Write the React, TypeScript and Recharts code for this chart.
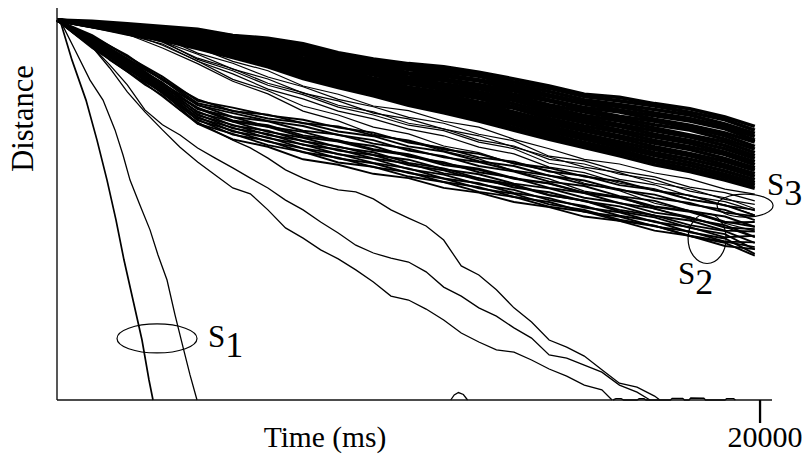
import {LineChart, Line, XAxis, YAxis, ReferenceDot, Label} from "recharts";

// sample times (ms) shared by the trajectory bundles
const TIMES = [0, 1000, 2000, 3000, 4000, 5000, 6000, 7000, 8000, 9000, 10000,
    11000, 12000, 13000, 14000, 15000, 16000, 17000, 18000, 19000, 19850];

// S3 - the dense upper bundle
const S3_BAND: number[][] = [
    [96.9, 96.6, 96.0, 95.3, 94.6, 93.0, 92.3, 90.9, 88.6, 87.0, 85.8, 85.0, 83.6, 81.9, 80.1, 78.0, 77.2, 75.6, 74.3, 72.2, 69.8],
    [96.9, 96.3, 95.6, 94.9, 94.1, 92.9, 91.6, 90.2, 88.1, 86.4, 85.1, 84.3, 83.2, 81.1, 79.5, 77.4, 76.3, 75.0, 73.4, 71.5, 68.8],
    [96.9, 96.2, 95.7, 94.6, 93.8, 92.4, 91.4, 89.5, 87.6, 86.0, 84.6, 83.7, 82.6, 80.4, 78.7, 76.6, 75.4, 74.1, 72.7, 70.4, 68.0],
    [96.9, 96.0, 95.2, 94.7, 93.4, 92.2, 90.9, 89.4, 87.0, 85.5, 84.3, 83.0, 81.7, 80.0, 77.9, 75.9, 74.8, 73.2, 71.8, 69.7, 67.2],
    [96.9, 96.1, 95.0, 94.2, 93.5, 91.8, 90.8, 88.9, 86.8, 85.3, 83.5, 82.6, 81.4, 79.3, 77.4, 75.5, 74.0, 72.5, 71.2, 69.2, 66.3],
    [96.9, 95.9, 95.3, 93.9, 93.0, 91.6, 90.3, 88.3, 86.3, 84.6, 83.2, 81.9, 80.5, 78.8, 76.6, 74.6, 73.5, 71.6, 70.1, 68.1, 65.8],
    [96.9, 96.0, 94.9, 94.1, 92.8, 91.2, 89.8, 88.1, 85.9, 84.2, 82.4, 81.5, 80.0, 78.0, 76.3, 74.1, 72.4, 71.1, 69.5, 67.4, 64.7],
    [96.9, 95.8, 94.8, 93.6, 92.6, 91.1, 89.5, 87.3, 85.5, 83.6, 82.1, 80.7, 79.4, 77.5, 75.3, 73.5, 71.8, 70.2, 68.9, 66.5, 64.0],
    [96.9, 95.9, 94.6, 93.7, 92.2, 90.6, 89.3, 87.0, 84.9, 83.3, 81.4, 80.3, 78.6, 76.8, 74.7, 72.6, 71.2, 69.4, 67.6, 65.8, 63.1],
    [96.9, 95.7, 94.7, 93.3, 92.0, 90.3, 88.8, 86.6, 84.6, 82.9, 81.0, 79.6, 78.0, 76.4, 73.9, 72.0, 70.3, 68.7, 67.1, 64.9, 62.3],
    [96.9, 95.8, 94.5, 93.4, 91.8, 90.1, 88.4, 86.2, 84.2, 82.1, 80.6, 79.2, 77.4, 75.6, 73.3, 71.3, 69.8, 67.8, 66.2, 64.1, 61.6],
    [96.9, 95.6, 94.4, 93.0, 91.6, 89.7, 88.2, 85.8, 83.6, 81.9, 79.8, 78.5, 76.9, 74.8, 72.6, 70.7, 68.9, 67.1, 65.5, 63.2, 60.8],
    [96.9, 95.7, 94.3, 93.1, 91.3, 89.5, 87.7, 85.5, 83.4, 81.3, 79.5, 77.9, 76.0, 74.4, 71.8, 69.9, 68.3, 66.2, 64.6, 62.6, 60.0],
    [96.9, 95.5, 94.1, 92.7, 91.1, 89.2, 87.4, 84.8, 82.8, 80.9, 78.8, 77.3, 75.6, 73.5, 71.2, 69.2, 67.4, 65.5, 63.9, 61.6, 59.2],
    [96.9, 95.6, 94.2, 92.8, 90.9, 88.8, 87.0, 84.5, 82.3, 80.6, 78.2, 76.6, 74.9, 72.9, 70.5, 68.6, 66.8, 64.6, 62.9, 60.9, 58.6],
    [96.9, 95.4, 94.0, 92.5, 90.7, 88.7, 86.6, 84.0, 82.0, 79.9, 77.7, 76.0, 74.2, 72.3, 69.8, 67.8, 65.9, 63.9, 62.3, 60.0, 57.7],
    [96.9, 95.5, 93.8, 92.6, 90.4, 88.3, 86.3, 83.6, 81.5, 79.5, 77.1, 75.5, 73.6, 71.6, 69.2, 67.1, 65.2, 63.1, 61.4, 59.3, 57.0],
    [96.9, 95.3, 93.9, 92.2, 90.3, 88.1, 85.9, 83.3, 81.0, 79.0, 76.6, 74.8, 72.9, 71.0, 68.5, 66.5, 64.5, 62.4, 60.6, 58.4, 56.2],
    [96.9, 95.4, 93.7, 92.3, 90.0, 87.8, 85.7, 82.8, 80.6, 78.5, 76.1, 74.3, 72.2, 70.3, 67.8, 65.7, 63.8, 61.5, 59.8, 57.6, 55.4],
    [96.9, 95.2, 93.6, 91.9, 89.9, 87.6, 85.4, 82.5, 80.1, 78.2, 75.6, 73.8, 71.7, 69.5, 67.1, 65.0, 63.1, 60.8, 59.0, 56.9, 54.8],
    [96.9, 95.3, 93.4, 91.8, 89.7, 87.4, 85.0, 82.0, 79.7, 77.6, 75.2, 73.3, 71.2, 68.8, 66.5, 64.4, 62.3, 60.0, 58.3, 56.1, 54.0],
];

// trajectories that drift out of S3 towards S2
const CROSSING: number[][] = [
    [96.9, 96.2, 95.0, 92.7, 89.9, 86.4, 84.0, 80.1, 78.0, 75.0, 73.8, 71.1, 69.6, 66.5, 64.1, 61.4, 60.2, 57.9, 56.4, 53.8, 52.5],
    [96.9, 95.9, 94.2, 92.5, 88.5, 85.9, 82.4, 79.9, 76.7, 74.8, 72.1, 70.6, 67.8, 66.1, 62.2, 61.0, 58.4, 56.9, 54.3, 52.9, 50.8],
    [96.9, 95.6, 94.0, 91.5, 88.2, 84.4, 81.9, 78.3, 76.3, 73.2, 71.7, 69.1, 67.4, 64.5, 62.0, 59.4, 58.0, 55.3, 53.9, 51.2, 49.9],
    [96.9, 96.0, 93.9, 91.5, 86.9, 84.0, 80.3, 77.9, 74.7, 72.7, 70.1, 68.7, 65.8, 64.1, 60.4, 59.0, 56.3, 54.9, 52.0, 50.6, 48.3],
    [96.9, 95.5, 93.2, 90.8, 86.4, 83.2, 79.3, 76.8, 73.7, 71.7, 69.1, 67.4, 64.5, 62.8, 59.4, 58.0, 55.3, 53.9, 51.2, 49.8, 47.2],
    [96.9, 95.6, 93.8, 90.5, 86.5, 81.8, 78.9, 75.0, 72.7, 69.6, 67.9, 64.8, 63.1, 60.2, 58.5, 55.3, 53.4, 50.2, 48.3, 45.1, 43.1],
    [96.9, 95.3, 93.3, 89.8, 85.8, 81.3, 78.1, 73.7, 71.2, 67.8, 66.1, 63.5, 61.5, 58.4, 56.4, 53.3, 51.8, 48.7, 46.7, 44.1, 41.5],
    [96.9, 96.0, 93.7, 91.3, 87.2, 84.5, 80.8, 78.4, 75.2, 73.5, 70.6, 69.2, 66.3, 64.8, 61.4, 60.2, 57.6, 56.2, 53.3, 51.6, 48.8],
];

// S2 - the lower bundle
const S2_BAND: number[][] = [
    [96.9, 93.1, 87.6, 82.5, 76.3, 74.6, 72.6, 71.5, 69.5, 68.2, 65.7, 64.3, 61.9, 60.8, 58.3, 57.2, 54.8, 53.6, 51.1, 49.7, 47.1],
    [96.9, 92.7, 87.9, 81.6, 76.7, 73.7, 72.8, 70.6, 69.8, 67.5, 66.2, 63.9, 62.8, 60.4, 59.2, 57.0, 55.8, 53.4, 52.2, 49.6, 48.5],
    [96.9, 92.4, 86.8, 81.7, 75.2, 73.2, 71.2, 69.9, 67.6, 66.3, 63.6, 62.2, 59.7, 58.3, 55.7, 54.6, 52.0, 50.8, 48.2, 46.8, 44.2],
    [96.9, 92.2, 87.0, 80.7, 75.3, 72.2, 71.1, 68.7, 67.7, 65.4, 64.1, 61.9, 60.7, 58.5, 57.3, 55.0, 53.8, 51.5, 50.3, 47.8, 46.9],
    [96.9, 92.0, 86.2, 81.0, 74.2, 72.2, 69.7, 68.4, 66.0, 64.8, 62.1, 60.7, 58.1, 56.7, 54.1, 52.8, 50.2, 48.9, 46.2, 44.6, 41.6],
    [96.9, 91.6, 86.3, 80.0, 74.3, 71.0, 69.7, 67.1, 65.9, 63.7, 62.4, 59.9, 58.7, 56.4, 55.2, 52.8, 51.6, 49.2, 48.0, 45.3, 45.4],
    [96.9, 91.4, 85.5, 80.4, 73.3, 71.0, 68.4, 66.9, 64.5, 63.2, 60.5, 59.1, 56.5, 55.0, 52.3, 50.8, 48.1, 46.6, 43.9, 42.3, 38.4],
    [96.9, 91.3, 85.9, 79.5, 73.6, 70.0, 68.7, 66.0, 64.7, 62.5, 61.3, 58.9, 57.6, 55.2, 54.0, 51.6, 50.3, 47.8, 46.6, 44.0, 43.6],
    [96.9, 91.1, 85.1, 79.9, 72.6, 70.2, 67.6, 66.1, 63.6, 62.5, 59.9, 58.6, 56.1, 54.7, 52.2, 50.9, 48.5, 47.1, 44.6, 43.1, 40.1],
    [96.9, 91.0, 85.5, 79.1, 72.9, 69.3, 67.9, 65.1, 63.9, 61.6, 60.3, 57.8, 56.6, 54.2, 53.0, 50.7, 49.4, 47.0, 45.8, 43.2, 43.0],
    [96.9, 90.8, 84.7, 79.4, 71.9, 69.5, 66.8, 65.2, 62.7, 61.5, 58.9, 57.5, 55.0, 53.6, 51.0, 49.5, 47.0, 45.6, 42.8, 41.2, 37.3],
    [96.9, 90.6, 85.1, 78.6, 72.2, 68.5, 67.0, 64.2, 62.8, 60.5, 59.1, 56.5, 55.3, 52.8, 51.5, 49.1, 47.9, 45.4, 44.1, 41.5, 41.9],
    [96.9, 90.5, 84.3, 79.0, 71.3, 68.7, 65.9, 64.2, 61.6, 60.4, 57.9, 56.5, 54.0, 52.6, 49.9, 48.5, 46.0, 44.5, 41.8, 40.1, 36.8],
    [96.9, 90.3, 84.7, 78.2, 71.5, 67.7, 66.1, 63.2, 61.8, 59.4, 58.1, 55.6, 54.3, 51.8, 50.5, 48.0, 46.8, 44.3, 43.0, 40.4, 40.2],
    [96.9, 90.1, 83.8, 78.5, 70.5, 67.9, 65.0, 63.3, 60.6, 59.5, 57.0, 55.6, 53.1, 51.8, 49.3, 48.1, 45.7, 44.4, 41.9, 40.4, 39.0],
    [96.9, 89.8, 84.0, 77.5, 70.5, 66.5, 64.6, 61.4, 60.0, 57.7, 56.6, 54.1, 52.9, 50.5, 49.2, 46.8, 45.7, 43.2, 41.9, 39.3, 38.5],
    [96.9, 92.6, 87.1, 82.0, 75.7, 73.8, 71.8, 70.7, 68.5, 67.3, 64.7, 63.4, 60.9, 59.7, 57.2, 56.0, 53.6, 52.4, 49.9, 48.5, 45.9],
    [96.9, 91.8, 86.6, 80.2, 74.6, 71.3, 70.1, 67.5, 66.3, 64.0, 62.7, 60.3, 59.0, 56.6, 55.3, 52.9, 51.8, 49.4, 48.2, 45.5, 44.2],
];

// the three trajectories that fall all the way to zero (sampled every 500 ms)
const STRAY_P_TIME = [0, 500, 1000, 1500, 2000, 2500, 3000, 3500, 4000, 4500, 5000, 5500, 6000, 6500, 7000, 7500, 8000,
    8500, 9000, 9500, 10000, 10500, 11000, 11500, 12000, 12500, 13000, 13500, 14000, 14500, 15000, 15500, 16000, 16500, 17000, 17150];
const STRAY_P_DIST = [96.9, 93.6, 90.6, 86.7, 83.7, 80.4, 77.8, 74.0, 70.9, 68.6, 66.3, 64.3, 61.7, 58.7, 56.6, 54.8, 53.6,
    53.1, 51.3, 48.5, 46.4, 44.4, 40.8, 34.2, 31.9, 28.1, 23.5, 19.9, 15.3, 13.5, 11.2, 7.7, 4.3, 3.3, 1.0, 0];
const STRAY_Q_TIME = [0, 500, 1000, 1500, 2000, 2500, 3000, 3500, 4000, 4500, 5000, 5500, 6000, 6500, 7000, 7500, 8000,
    8500, 9000, 9500, 10000, 10500, 11000, 11500, 12000, 12500, 13000, 13500, 14000, 14500, 15000, 15500, 16000, 16500, 16870];
const STRAY_Q_DIST = [96.9, 93.4, 90.1, 85.5, 80.4, 74.0, 70.2, 67.6, 64.3, 61.7, 59.2, 56.6, 54.1, 51.0, 48.5, 45.4, 42.6,
    39.5, 37.5, 36.2, 35.2, 32.7, 28.8, 26.5, 23.5, 21.4, 18.4, 15.8, 11.5, 10.7, 8.9, 7.1, 3.8, 2.0, 0];
const STRAY_R_TIME = [0, 500, 1000, 1500, 2000, 2500, 3000, 3500, 4000, 4500, 5000, 5500, 6000, 6500, 7000, 7500, 8000,
    8500, 9000, 9500, 10000, 10500, 11000, 11500, 12000, 12500, 13000, 13500, 14000, 14500, 15000, 15500, 15790];
const STRAY_R_DIST = [96.9, 93.4, 90.1, 84.7, 78.6, 73.5, 68.9, 64.5, 60.7, 57.4, 54.1, 52.6, 48.5, 43.9, 41.3, 38.3, 36.0,
    33.2, 30.1, 26.5, 25.5, 23.2, 20.4, 17.1, 14.8, 12.8, 12.2, 10.2, 7.9, 6.1, 3.8, 2.6, 0];

// S1 - the two fast ones
const S1_A_TIME = [85, 427, 825, 1138, 1423, 1679, 1906, 2162, 2418, 2617, 2731];
const S1_A_DIST = [96.9, 86.7, 76.5, 66.3, 56.1, 45.9, 35.7, 25.5, 15.3, 5.1, 0];
const S1_B_TIME = [85, 512, 939, 1309, 1650, 1878, 2077, 2361, 2646, 2873, 3130, 3357, 3585, 3784, 3983];
const S1_B_DIST = [96.9, 89.3, 81.6, 76.5, 68.9, 62.5, 56.1, 49.7, 43.4, 37.0, 30.6, 21.7, 13.5, 6.4, 0];

// small blips on the floor
const BLIP_TIME = [11200, 11300, 11420, 11560, 11680];
const BLIP_DIST = [0, 1.3, 1.9, 1.4, 0];
const FLOOR_TIME = [15820, 15900, 16050, 16120, 16500, 16560, 16700, 16760, 17450, 17500, 17800, 17850,
    17980, 18030, 18400, 18450, 19000, 19050, 19250, 19300];
const FLOOR_DIST = [0, 0.35, 0.35, 0, 0, 0.3, 0.3, 0, 0, 0.4, 0.4, 0, 0, 0.5, 0.45, 0, 0, 0.35, 0.35, 0];

const X_TICKS = [20000];

// group markers
const ELLIPSES = [
    {t: 2845, d: 15.7, rx: 40, ry: 14.5},
    {t: 18493, d: 41.2, rx: 19, ry: 25},
    {t: 19574, d: 49.6, rx: 28, ry: 11.5},
];
const GROUP_LABELS = [
    {t: 4296, d: 13.5, sub: "1"},
    {t: 17667, d: 29.6, sub: "2"},
    {t: 20200, d: 52.3, sub: "3"},
];

const SERIF = '"Liberation Serif", "Times New Roman", serif';

const groups: [string, number[][]][] = [["a", S3_BAND], ["c", CROSSING], ["b", S2_BAND]];

const rows = TIMES.map((t, i) => {
    const row: Record<string, number> = {t};
    groups.forEach(([key, lines]) => lines.forEach((l, j) => (row[key + j] = l[i])));
    return row;
});

const pairs = (ts: number[], ds: number[]) => ts.map((t, i) => ({t, d: ds[i]}));

const singles: [number[], number[], number][] = [
    [STRAY_P_TIME, STRAY_P_DIST, 1.3],
    [STRAY_Q_TIME, STRAY_Q_DIST, 1.3],
    [STRAY_R_TIME, STRAY_R_DIST, 1.3],
    [S1_A_TIME, S1_A_DIST, 1.7],
    [S1_B_TIME, S1_B_DIST, 1.3],
    [BLIP_TIME, BLIP_DIST, 1.3],
    [FLOOR_TIME, FLOOR_DIST, 1.4],
];

const widths: Record<string, number> = {a: 3.6, c: 1.2, b: 1.9};

const App = () => {
    return (
        <div style={{position: "absolute", left: 0, top: 0}}>
            <LineChart width={807} height={454} data={rows} margin={{top: 8, right: 35, bottom: 0, left: 0}}>
                <XAxis dataKey="t" type="number" domain={[0, 20340]} ticks={X_TICKS} height={54}
                       axisLine={{stroke: "#111", strokeWidth: 1.4}}
                       tickLine={{stroke: "#000", strokeWidth: 2.3}} tickSize={23}
                       tick={(p: any) => (
                           <text x={p.x + 5} y={p.y + 22} textAnchor="middle" fontFamily={SERIF} fontSize={30} fill="#000">
                               {p.payload.value}
                           </text>
                       )}>
                    <Label content={(p: any) => (
                        <text x={p.viewBox.x + 268} y={p.viewBox.y + 47} textAnchor="middle" fontFamily={SERIF}
                              fontSize={29.5} fill="#000">Time (ms)</text>
                    )}/>
                </XAxis>
                <YAxis type="number" domain={[0, 100]} tick={false} tickLine={false} width={57}
                       axisLine={{stroke: "#111", strokeWidth: 1.4}}>
                    <Label content={(p: any) => {
                        const x = p.viewBox.x + p.viewBox.width - 24;
                        const y = p.viewBox.y + 110.5;
                        return (
                            <text x={x} y={y} transform={`rotate(-90, ${x}, ${y})`} textAnchor="middle"
                                  fontFamily={SERIF} fontSize={30.5} fill="#000">Distance</text>
                        );
                    }}/>
                </YAxis>
                {groups.map(([key, lines]) => lines.map((_, j) => (
                    <Line key={key + j} dataKey={key + j} type="linear" stroke="#000" strokeWidth={widths[key]}
                          dot={false} isAnimationActive={false}/>
                )))}
                {singles.map(([ts, ds, w], i) => (
                    <Line key={"s" + i} data={pairs(ts, ds)} dataKey="d" type="linear" stroke="#000" strokeWidth={w}
                          dot={false} isAnimationActive={false}/>
                ))}
                {ELLIPSES.map((e, i) => (
                    <ReferenceDot key={"e" + i} x={e.t} y={e.d} shape={(p: any) => (
                        <ellipse cx={p.cx} cy={p.cy} rx={e.rx} ry={e.ry} fill="none" stroke="#000" strokeWidth={1.2}/>
                    )}/>
                ))}
                {GROUP_LABELS.map((g, i) => (
                    <ReferenceDot key={"g" + i} x={g.t} y={g.d} shape={(p: any) => (
                        <text x={p.cx} y={p.cy} fontFamily={SERIF} fontSize={31} fill="#000">
                            S<tspan dy={10} fontSize={36}>{g.sub}</tspan>
                        </text>
                    )}/>
                ))}
            </LineChart>
        </div>
    );
};

export default App;
